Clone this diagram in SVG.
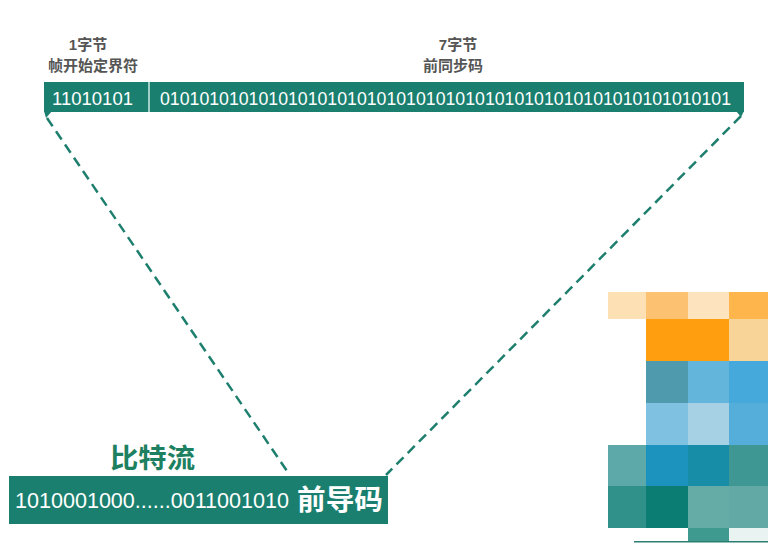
<svg xmlns="http://www.w3.org/2000/svg" width="768" height="560" viewBox="0 0 768 560">
<style>
.bar{fill:#1b7f70}
.lbl{font-family:"Liberation Sans","Noto Sans CJK SC",sans-serif;font-weight:bold;font-size:15px;fill:#555;text-anchor:middle}
.bits{font-family:"Liberation Sans","Noto Sans CJK SC",sans-serif;fill:#fff}
.dash{stroke:#1e7f6e;stroke-width:2.5;stroke-dasharray:10 6;fill:none}
</style>
<rect width="768" height="560" fill="#fff"/>
<g id="connectors">
<line class="dash" x1="47" y1="118" x2="289" y2="474"/>
<line class="dash" x1="741" y1="116" x2="386" y2="475"/>
</g>
<g id="top-bar">
<rect class="bar" x="44" y="82" width="700" height="30"/>
<polygon class="bar" points="44,111 52,111 46,118"/>
<polygon class="bar" points="744,111 736,111 741,117"/>
<line x1="149" y1="82" x2="149" y2="112" stroke="#cfe8e3" stroke-width="1.5"/>
</g>
<g id="sfd">
<text class="lbl" x="88" y="50">1字节</text>
<text class="lbl" x="93" y="71">帧开始定界符</text>
<text class="bits" x="52" y="105" font-size="18" textLength="81" lengthAdjust="spacingAndGlyphs">11010101</text>
</g>
<g id="preamble">
<text class="lbl" x="458" y="50">7字节</text>
<text class="lbl" x="453" y="71">前同步码</text>
<text class="bits" x="160" y="105" font-size="18" textLength="571" lengthAdjust="spacingAndGlyphs">0101010101010101010101010101010101010101010101010101010101</text>
</g>
<g id="bitstream">
<text x="110" y="468" font-family="'Liberation Sans','Noto Sans CJK SC',sans-serif" font-weight="bold" font-size="27" fill="#1d8060" textLength="85" lengthAdjust="spacingAndGlyphs">比特流</text>
<rect class="bar" x="9" y="476" width="379" height="48"/>
<text class="bits" x="15" y="508" font-size="22" textLength="274" lengthAdjust="spacingAndGlyphs">1010001000......0011001010</text>
<text class="bits" x="297" y="510" font-size="28" font-weight="bold" textLength="86" lengthAdjust="spacingAndGlyphs">前导码</text>
</g>
<g id="mosaic">
<rect x="608" y="292" width="38" height="27" fill="#fde0b4"/>
<rect x="646" y="292" width="42" height="27" fill="#fdc271"/>
<rect x="688" y="292" width="41" height="27" fill="#fde3be"/>
<rect x="729" y="292" width="39" height="27" fill="#fdb54c"/>
<rect x="646" y="319" width="83" height="42" fill="#ff9e0e"/>
<rect x="729" y="319" width="39" height="42" fill="#f8d498"/>
<rect x="646" y="361" width="42" height="42" fill="#4f9aad"/>
<rect x="688" y="361" width="41" height="42" fill="#63b5db"/>
<rect x="729" y="361" width="39" height="42" fill="#45aadb"/>
<rect x="646" y="403" width="42" height="42" fill="#7ec1e1"/>
<rect x="688" y="403" width="41" height="42" fill="#a6d1e5"/>
<rect x="729" y="403" width="39" height="42" fill="#55add9"/>
<rect x="608" y="445" width="38" height="41" fill="#5da9aa"/>
<rect x="646" y="445" width="42" height="41" fill="#1c92be"/>
<rect x="688" y="445" width="41" height="41" fill="#178da7"/>
<rect x="729" y="445" width="39" height="41" fill="#3e9792"/>
<rect x="608" y="486" width="38" height="42" fill="#2f9189"/>
<rect x="646" y="486" width="42" height="42" fill="#0b7d73"/>
<rect x="688" y="486" width="41" height="42" fill="#65aca6"/>
<rect x="729" y="486" width="39" height="42" fill="#62a9a5"/>
<rect x="688" y="528" width="41" height="13" fill="#3e9a8e"/>
<rect x="729" y="528" width="39" height="13" fill="#e8f3f2"/>
<rect x="634" y="541" width="134" height="1.5" fill="#2a7f70"/>
</g>
</svg>
